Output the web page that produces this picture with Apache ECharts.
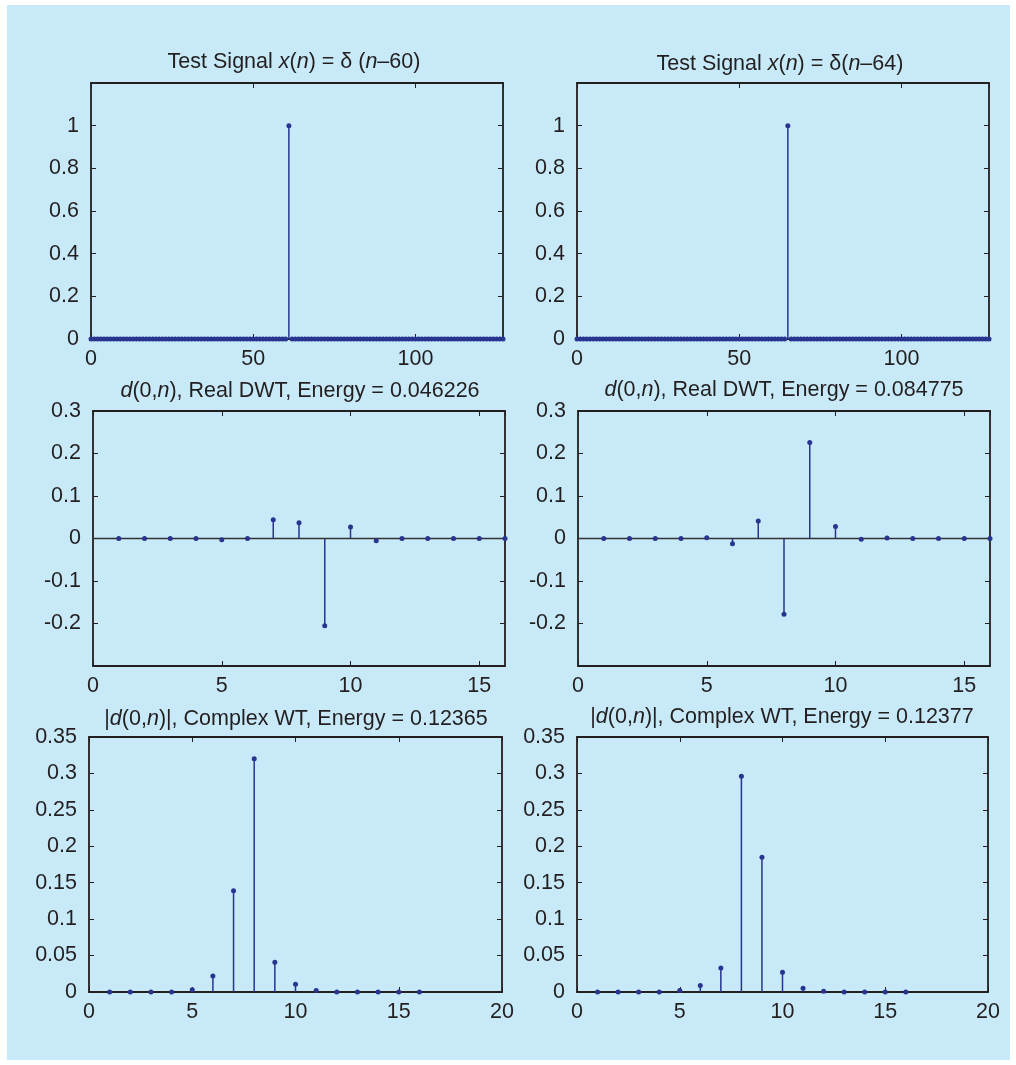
<!DOCTYPE html>
<html><head><meta charset="utf-8">
<script src="https://cdn.jsdelivr.net/npm/echarts@6/dist/echarts.min.js"></script>
<style>html,body{margin:0;padding:0;background:#fff}#c{width:1016px;height:1065px}</style>
</head><body><div id="c"></div><script>
// ---- Data ----
// Test signals (index n = 0..127)
const signalA = [
0,0,0,0,0,0,0,0,0,0,0,0,0,0,0,0,0,0,0,0,0,0,0,0,0,0,0,0,0,0,0,0,
0,0,0,0,0,0,0,0,0,0,0,0,0,0,0,0,0,0,0,0,0,0,0,0,0,0,0,0,0,1,0,0,
0,0,0,0,0,0,0,0,0,0,0,0,0,0,0,0,0,0,0,0,0,0,0,0,0,0,0,0,0,0,0,0,
0,0,0,0,0,0,0,0,0,0,0,0,0,0,0,0,0,0,0,0,0,0,0,0,0,0,0,0,0,0,0,0];
const signalB = [
0,0,0,0,0,0,0,0,0,0,0,0,0,0,0,0,0,0,0,0,0,0,0,0,0,0,0,0,0,0,0,0,
0,0,0,0,0,0,0,0,0,0,0,0,0,0,0,0,0,0,0,0,0,0,0,0,0,0,0,0,0,0,0,0,
0,1,0,0,0,0,0,0,0,0,0,0,0,0,0,0,0,0,0,0,0,0,0,0,0,0,0,0,0,0,0,0,
0,0,0,0,0,0,0,0,0,0,0,0,0,0,0,0,0,0,0,0,0,0,0,0,0,0,0,0,0,0,0,0];
// Coefficient index n = 1..16
const coefIndex = [1,2,3,4,5,6,7,8,9,10,11,12,13,14,15,16];
const realDwtA = [0,0,0,0,-0.003,0,0.044,0.037,-0.205,0.027,-0.005,0,0,0,0,0];
const realDwtB = [0,0,0,0,0.002,-0.0125,0.041,-0.178,0.226,0.028,-0.002,0.001,0,0,0,0];
const complexA = [0,0,0,0,0.003,0.022,0.139,0.320,0.041,0.0105,0.002,0,0,0,0,0];
const complexB = [0,0,0,0,0.002,0.009,0.033,0.296,0.185,0.027,0.005,0.001,0,0,0,0];

const titles = [
  '{t|Test Signal }{i|x}{t|(}{i|n}{t|) = δ (}{i|n}{t|–60)}',
  '{t|Test Signal }{i|x}{t|(}{i|n}{t|) = δ(}{i|n}{t|–64)}',
  '{i|d}{t|(0,}{i|n}{t|), Real DWT, Energy = 0.046226}',
  '{i|d}{t|(0,}{i|n}{t|), Real DWT, Energy = 0.084775}',
  '{t||}{i|d}{t|(0,}{i|n}{t|)|, Complex WT, Energy = 0.12365}',
  '{t||}{i|d}{t|(0,}{i|n}{t|)|, Complex WT, Energy = 0.12377}'
];

// ---- Styling / layout ----
const FONT = '"Liberation Sans", Arial, Helvetica, sans-serif';
const STEM = '#27358f';
const AXIS = '#231f20';
const FS = 21.5;

const panels = [
  {x:91, y:83, w:412, h:256, xr:[0,127,50], yr:[0,1.2,0.2], hideXMax:true, hideYMax:true, hideYMin:false, baseline:false,
   data: signalA.map((v,i)=>[i,v]), title:titles[0], tx:294, ty:62},
  {x:577, y:83, w:412, h:256, xr:[0,127,50], yr:[0,1.2,0.2], hideXMax:true, hideYMax:true, hideYMin:false, baseline:false,
   data: signalB.map((v,i)=>[i,v]), title:titles[1], tx:780, ty:64},
  {x:93, y:411, w:412, h:255, xr:[0,16,5], yr:[-0.3,0.3,0.1], hideXMax:true, hideYMax:false, hideYMin:true, baseline:true,
   data: realDwtA.map((v,i)=>[coefIndex[i],v]), title:titles[2], tx:300, ty:391},
  {x:578, y:411, w:412, h:255, xr:[0,16,5], yr:[-0.3,0.3,0.1], hideXMax:true, hideYMax:false, hideYMin:true, baseline:true,
   data: realDwtB.map((v,i)=>[coefIndex[i],v]), title:titles[3], tx:784, ty:390},
  {x:89, y:737, w:413, h:255, xr:[0,20,5], yr:[0,0.35,0.05], hideXMax:false, hideYMax:false, hideYMin:false, baseline:false,
   data: complexA.map((v,i)=>[coefIndex[i],v]), title:titles[4], tx:296, ty:719},
  {x:577, y:737, w:411, h:255, xr:[0,20,5], yr:[0,0.35,0.05], hideXMax:false, hideYMax:false, hideYMin:false, baseline:false,
   data: complexB.map((v,i)=>[coefIndex[i],v]), title:titles[5], tx:782, ty:717}
];

function stemRender(params, api){
  const x = api.value(0), y = api.value(1);
  const p0 = api.coord([x,0]), p1 = api.coord([x,y]);
  return {type:'group', children:[
    {type:'line', shape:{x1:p0[0],y1:p0[1],x2:p1[0],y2:p1[1]}, style:{stroke:STEM, lineWidth:1.5}},
    {type:'circle', shape:{cx:p1[0],cy:p1[1],r:2.5}, style:{fill:STEM}}
  ]};
}

const grid=[], xAxis=[], yAxis=[], series=[], graphic=[];
graphic.push({type:'rect', z:-10, shape:{x:7,y:5,width:1003,height:1055}, style:{fill:'#c7e9f8'}});

panels.forEach((p,k)=>{
  grid.push({left:p.x, top:p.y, width:p.w, height:p.h, containLabel:false, show:false});
  const lineStyle = {color:AXIS, width:1.8};
  const tick = {show:true, inside:true, length:5, lineStyle:{color:AXIS, width:1}};
  xAxis.push({type:'value', gridIndex:k, position:'bottom', min:p.xr[0], max:p.xr[1], interval:p.xr[2],
    axisLine:{show:true, onZero:false, lineStyle}, axisTick:tick, splitLine:{show:false},
    axisLabel:{show:true, color:AXIS, fontSize:FS, fontFamily:FONT, margin:9, showMaxLabel:!p.hideXMax, showMinLabel:true}});
  xAxis.push({type:'value', gridIndex:k, position:'top', min:p.xr[0], max:p.xr[1], interval:p.xr[2],
    axisLine:{show:true, onZero:false, lineStyle}, axisTick:tick, splitLine:{show:false}, axisLabel:{show:false}});
  yAxis.push({type:'value', gridIndex:k, position:'left', min:p.yr[0], max:p.yr[1], interval:p.yr[2],
    axisLine:{show:true, onZero:false, lineStyle}, axisTick:tick, splitLine:{show:false},
    axisLabel:{show:true, color:AXIS, fontSize:FS, fontFamily:FONT, margin:12,
      showMaxLabel:!p.hideYMax, showMinLabel:!p.hideYMin}});
  yAxis.push({type:'value', gridIndex:k, position:'right', min:p.yr[0], max:p.yr[1], interval:p.yr[2],
    axisLine:{show:true, onZero:false, lineStyle}, axisTick:tick, splitLine:{show:false}, axisLabel:{show:false}});
  if (p.baseline) {
    series.push({type:'line', xAxisIndex:2*k, yAxisIndex:2*k, data:[[p.xr[0],0],[p.xr[1],0]],
      showSymbol:false, symbol:'none', silent:true, lineStyle:{color:'#333333', width:1.5}, z:1});
  }
  series.push({type:'custom', xAxisIndex:2*k, yAxisIndex:2*k, data:p.data, renderItem:stemRender, clip:false, z:3, silent:true});
  graphic.push({type:'text', x:p.tx, y:p.ty, z:10, style:{
    text:p.title, align:'center', verticalAlign:'middle', fill:AXIS,
    font: FS+'px '+FONT,
    rich:{t:{fontSize:FS, fontFamily:FONT, fill:AXIS, color:AXIS}, i:{fontSize:FS, fontFamily:FONT, fontStyle:'italic', fill:AXIS, color:AXIS}}
  }});
});

const chart = echarts.init(document.getElementById('c'), null, {renderer:'canvas'});
chart.setOption({backgroundColor:'#ffffff', animation:false, grid, xAxis, yAxis, series, graphic});
</script></body></html>
